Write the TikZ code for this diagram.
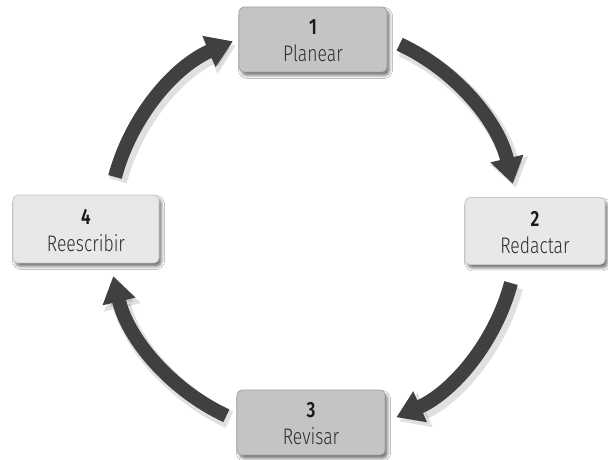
\documentclass[tikz,border=0pt]{standalone}
\usepackage{fontspec}
\setmainfont{Fira Sans Light}[FakeStretch=0.78,BoldFont={Fira Sans SemiBold}]
\usetikzlibrary{arrows.meta,shadows.blur}
\definecolor{boxdark}{HTML}{C4C4C4}
\definecolor{boxlight}{HTML}{E8E8E8}
\definecolor{linedark}{HTML}{A6A6A6}
\definecolor{linelight}{HTML}{C9C9C9}
\definecolor{arrowc}{HTML}{404040}
\definecolor{txt}{HTML}{2E2E2E}
\definecolor{numc}{HTML}{1A1A1A}
\begin{document}
\begin{tikzpicture}[x=1pt,y=1pt,
  stage/.style={rounded corners=5pt, inner sep=0pt, line width=0.8pt,
    blur shadow={shadow xshift=2.5pt, shadow yshift=-3.5pt, shadow blur radius=3pt, shadow opacity=55}},
  dark/.style={stage, fill=boxdark, draw=linedark},
  light/.style={stage, fill=boxlight, draw=linelight},
  num/.style={anchor=base, font=\fontsize{22}{22}\selectfont\bfseries, text=numc, inner sep=0pt},
  lab/.style={anchor=base, font=\fontsize{22.5}{23}\selectfont, text=txt, inner sep=0pt},
  cyc/.style={line width=14pt, draw=arrowc, -{Triangle[width=32pt,length=26pt]}},
  cycshadow/.style={line width=18pt, draw=black, opacity=0.12, -{Triangle[width=36pt,length=28pt]}}
]
\useasboundingbox (0,0) rectangle (608,460);
\fill[white] (0,0) rectangle (608,460);
\coordinate (c) at (313,230);
\coordinate (cs) at (316,226);
% arrow shadows
\foreach \a/\b in {65/13,-15/-66,-115/-167,165/113}{
  \draw[cycshadow] ([shift={(\a:205)}]cs) arc[start angle=\a, end angle=\b, radius=205];
}
% arrows
\draw[cyc] ([shift={(65:205)}]c) arc[start angle=65, end angle=13, radius=205];
\draw[cyc] ([shift={(-15:205)}]c) arc[start angle=-15, end angle=-66, radius=205];
\draw[cyc] ([shift={(-115:205)}]c) arc[start angle=-115, end angle=-167, radius=205];
\draw[cyc] ([shift={(165:205)}]c) arc[start angle=165, end angle=113, radius=205];
% boxes
\node[dark, minimum width=148pt, minimum height=65pt] (b1) at (313,420.5) {};
\node[light, minimum width=140pt, minimum height=67pt] (b2) at (535,229) {};
\node[dark, minimum width=148pt, minimum height=65pt] (b3) at (311,37.5) {};
\node[light, minimum width=146pt, minimum height=68pt] (b4) at (86,231) {};
% texts
\foreach \b/\n/\l in {b1/1/Planear,b2/2/Redactar,b3/3/Revisar,b4/4/Reescribir}{
  \node[num] (n\b) at ([yshift=4.5pt]\b.center) {\n};
  \node[lab] (l\b) at ([yshift=-22.5pt]\b.center) {\l};
}
\end{tikzpicture}
\end{document}
